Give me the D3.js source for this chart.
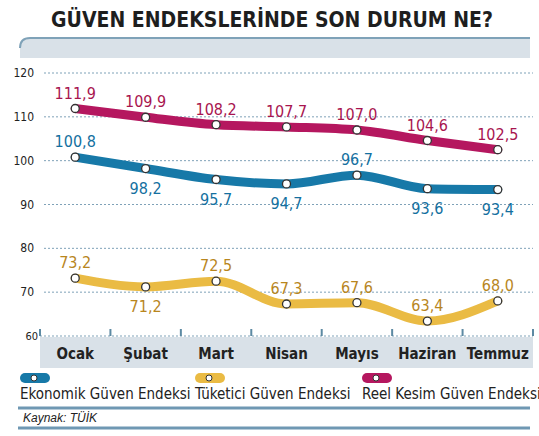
<!DOCTYPE html><html><head><meta charset="utf-8">
<script src="https://cdn.jsdelivr.net/npm/d3@7"></script>
<style>body{margin:0;background:#fff}text{font-family:"DejaVu Sans Condensed","DejaVu Sans";font-stretch:condensed}</style></head><body>
<svg id="c" width="539" height="436"></svg>
<script>
const months=["Ocak","Şubat","Mart","Nisan","Mayıs","Haziran","Temmuz"];
const ekonomik=[100.8,98.2,95.7,94.7,96.7,93.6,93.4];
const tuketici=[73.2,71.2,72.5,67.3,67.6,63.4,68.0];
const reel=[111.9,109.9,108.2,107.7,107.0,104.6,102.5];
const yTicks=[60,70,80,90,100,110,120];
const ekoBelow=[false,true,true,true,false,true,true];
const tukBelow=[false,true,false,false,false,false,false];
const reelBelow=[false,false,false,false,false,false,false];
const svg=d3.select("#c");
const x=d3.scaleBand().domain(months).range([40,533]);
const y=d3.scaleLinear().domain([60,120]).range([336,73]);
svg.append("text").attr("x",272).attr("y",27).attr("text-anchor","middle").attr("font-size",21).attr("font-weight","bold").attr("fill","#1e1e1e").text("GÜVEN ENDEKSLERİNDE SON DURUM NE?");
svg.append("path").attr("d","M20,58 V48 Q20,38 30,38 H530 V58 Z").attr("fill","#d9e1e8");
svg.append("path").attr("d","M20,48 Q20,38 30,38 H530").attr("fill","none").attr("stroke","#7fa2b8").attr("stroke-width",2);
svg.append("rect").attr("x",40).attr("y",337).attr("width",493).attr("height",31).attr("fill","#d9e1e8");
yTicks.forEach(t=>{
 svg.append("line").attr("x1",t===60?40:44).attr("x2",533).attr("y1",y(t)).attr("y2",y(t)).attr("stroke","#7fa2b8").attr("stroke-dasharray","2,2").attr("stroke-width",1);
 svg.append("text").attr("x",t===60?38:34).attr("y",y(t)+4).attr("text-anchor","end").attr("font-size",t===60?11:12).attr("fill","#222").text(t);
});
svg.append("line").attr("x1",40).attr("x2",40).attr("y1",y(60)-7).attr("y2",y(60)).attr("stroke","#5d8aa3").attr("stroke-width",2);
months.forEach((m,i)=>{
 const xr=x(m)+x.bandwidth();
 svg.append("line").attr("x1",xr).attr("x2",xr).attr("y1",y(60)-7).attr("y2",y(60)).attr("stroke","#5d8aa3").attr("stroke-width",2);
 svg.append("text").attr("x",x(m)+x.bandwidth()/2).attr("y",359).attr("text-anchor","middle").attr("font-size",15).attr("font-weight","bold").attr("fill","#222").text(m);
});
const cx=m=>x(m)+x.bandwidth()/2;
function series(vals,color,lab,below){
 const line=d3.line().x((d,i)=>cx(months[i])).y(d=>y(d)).curve(d3.curveMonotoneX);
 svg.append("path").attr("d",line(vals)).attr("fill","none").attr("stroke",color).attr("stroke-width",9).attr("stroke-linecap","round");
 vals.forEach((v,i)=>{
  svg.append("circle").attr("cx",cx(months[i])).attr("cy",y(v)).attr("r",4).attr("fill","#fff").attr("stroke","#333").attr("stroke-width",1.3);
  svg.append("text").attr("x",cx(months[i])).attr("y",below[i]?y(v)+25:y(v)-10).attr("text-anchor","middle").attr("font-size",16).attr("fill",lab).text(v.toFixed(1).replace(".",","));
 });
}
series(reel,"#b5175f","#a8154f",reelBelow);
series(ekonomik,"#1779a8","#1470a0",ekoBelow);
series(tuketici,"#eabb44","#b8861e",tukBelow);
const leg=[["Ekonomik Güven Endeksi","#1779a8",20],["Tüketici Güven Endeksi","#eabb44",195],["Reel Kesim Güven Endeksi","#b5175f",362]];
leg.forEach(([t,c,lx])=>{
 svg.append("rect").attr("x",lx).attr("y",373).attr("width",30).attr("height",10).attr("rx",5).attr("fill",c);
 svg.append("circle").attr("cx",lx+14).attr("cy",378).attr("r",3).attr("fill","#fff").attr("stroke","#333");
 svg.append("text").attr("x",lx).attr("y",399).attr("font-size",15).attr("fill","#222").text(t);
});
[408,428].forEach(yy=>svg.append("line").attr("x1",18).attr("x2",530).attr("y1",yy).attr("y2",yy).attr("stroke","#6f98b3").attr("stroke-width",3));
svg.append("text").attr("x",23).attr("y",422).attr("font-size",12).attr("font-style","italic").attr("fill","#222").style("font-family","Liberation Sans").style("font-stretch","normal").text("Kaynak: TÜİK");
</script></body></html>
